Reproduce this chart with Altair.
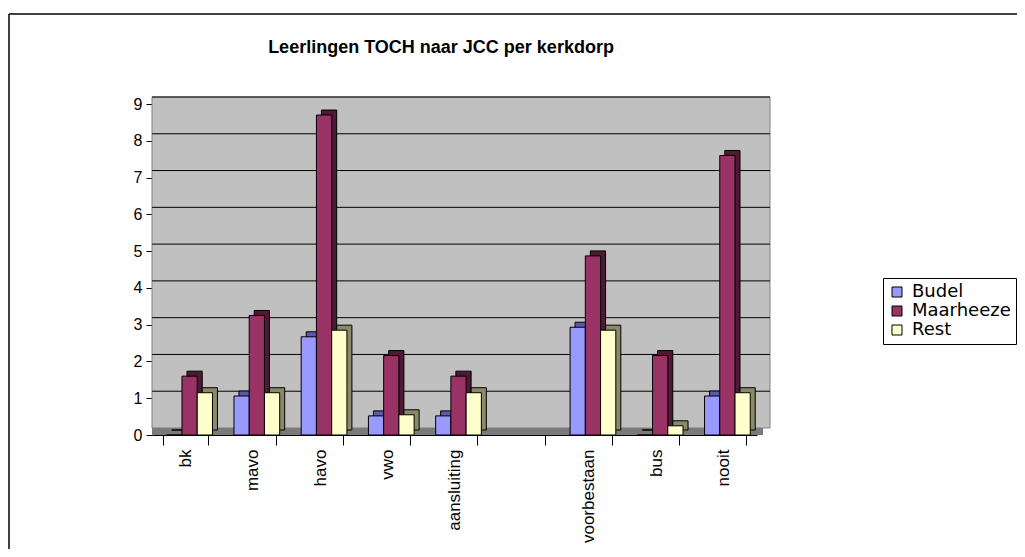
import altair as alt
import pandas as pd

# ---- data ----
categories = ["bk", "mavo", "havo", "vwo", "aansluiting", " ", "voorbestaan", "bus", "nooit"]
series = ["Budel", "Maarheeze", "Rest"]
budel = [0.0, 1.06, 2.67, 0.52, 0.52, None, 2.93, 0.0, 1.06]
maarheeze = [1.6, 3.25, 8.7, 2.16, 1.6, None, 4.87, 2.16, 7.6]
rest = [1.15, 1.15, 2.85, 0.55, 1.15, None, 2.85, 0.25, 1.15]
y_ticks = [0, 1, 2, 3, 4, 5, 6, 7, 8, 9]
title_text = "Leerlingen TOCH naar JCC per kerkdorp"

front_colors = ["#9999FF", "#993366", "#FFFFCC"]
side_colors = ["#5A5AA8", "#4D1A33", "#8A8A6A"]

rows = []
for s, vals in zip(series, [budel, maarheeze, rest]):
    for c, v in zip(categories, vals):
        if v is not None:
            rows.append({"cat": c, "series": s, "value": v})
df = pd.DataFrame(rows)
grid_df = pd.DataFrame({"v": y_ticks[1:]})
wall_df = pd.DataFrame({"lo": [y_ticks[0]], "hi": [y_ticks[-1]]})
title_df = pd.DataFrame({"t": [title_text]})

FONT = "Liberation Sans"
PLOT_W, PLOT_H = 605, 331
P_IN, P_OUT = 0.32, 0.16
BAND = PLOT_W / (len(categories) - P_IN + 2 * P_OUT) * (1 - P_IN)

yscale = alt.Scale(domain=[0, 9], nice=False, zero=True)
yaxis = alt.Axis(values=y_ticks, grid=False, title=None, labelFontSize=16, labelFont=FONT,
                 labelColor="black", tickColor="black", tickSize=6, domainColor="#404040",
                 labelPadding=4)
xscale = alt.Scale(domain=categories, paddingInner=P_IN, paddingOuter=P_OUT)
xaxis = alt.Axis(title=None, labelAngle=270, labelFontSize=17, labelFont=FONT, labelColor="black",
                 tickBand="extent", tickSize=10, tickColor="black", domainColor="black",
                 labelPadding=4)

wall = alt.Chart(wall_df).mark_rect(
    color="#C0C0C0", stroke="#808080", strokeWidth=1,
    xOffset=13, x2Offset=13, yOffset=-7, y2Offset=-7
).encode(y=alt.Y("lo:Q", scale=yscale, axis=yaxis), y2="hi:Q")

grid = alt.Chart(grid_df).mark_rule(color="black", strokeWidth=1, xOffset=13, x2Offset=13, yOffset=-7).encode(
    y=alt.Y("v:Q", scale=yscale, axis=yaxis)
)

floor = alt.Chart(wall_df).mark_rect(
    color="#7A7A7A", xOffset=6, x2Offset=6, yOffset=-7, y2Offset=0
).encode(y=alt.Y("lo:Q", scale=yscale, axis=yaxis), y2="lo:Q")

side = alt.Chart(df).mark_bar(stroke="black", strokeWidth=1, yOffset=-5, y2Offset=-5).encode(
    x=alt.X("cat:N", sort=categories, scale=xscale, axis=xaxis),
    xOffset=alt.XOffset("series:N", sort=series,
                        scale=alt.Scale(domain=series, range=[9, BAND + 9])),
    y=alt.Y("value:Q", scale=yscale, axis=yaxis),
    color=alt.Color("series:N", scale=alt.Scale(domain=series, range=side_colors), legend=None),
)

front = alt.Chart(df).mark_bar(stroke="black", strokeWidth=1).encode(
    x=alt.X("cat:N", sort=categories, scale=xscale, axis=xaxis),
    xOffset=alt.XOffset("series:N", sort=series,
                        scale=alt.Scale(domain=series, range=[4, BAND + 4])),
    y=alt.Y("value:Q", scale=yscale, axis=yaxis),
    color=alt.Color("series:N", scale=alt.Scale(domain=series, range=front_colors),
                    legend=alt.Legend(title=None, orient="none", legendX=731, legendY=174,
                                      fillColor="white", strokeColor="black", padding=5,
                                      labelFontSize=18, labelFont="DejaVu Sans", labelColor="black",
                                      labelOffset=6,
                                      symbolType="square", symbolSize=100, symbolStrokeColor="black",
                                      symbolStrokeWidth=1, symbolOpacity=1, rowPadding=1)),
)

title = alt.Chart(title_df).mark_text(
    font=FONT, fontSize=18, fontWeight="bold", color="black", align="center", baseline="alphabetic"
).encode(text="t:N", x=alt.value(289), y=alt.value(-51))

frame_left = alt.Chart(wall_df).mark_rule(color="black", strokeWidth=1.5).encode(
    x=alt.value(-143), y=alt.value(-90), y2=alt.value(470)
)
frame_top = alt.Chart(wall_df).mark_rule(color="black", strokeWidth=1.5).encode(
    x=alt.value(-143), x2=alt.value(900), y=alt.value(-90)
)

chart = alt.layer(wall, grid, floor, side, front, title, frame_left, frame_top).resolve_scale(
    color="independent", xOffset="independent"
).properties(
    width=PLOT_W, height=PLOT_H,
    autosize=alt.AutoSizeParams(type="none"),
    padding={"left": 144, "top": 96, "right": 260, "bottom": 114},
).configure_view(fill="#C0C0C0", stroke=None).configure(background="white")

chart.save("out.html", embed_options={"renderer": "svg", "actions": False})
